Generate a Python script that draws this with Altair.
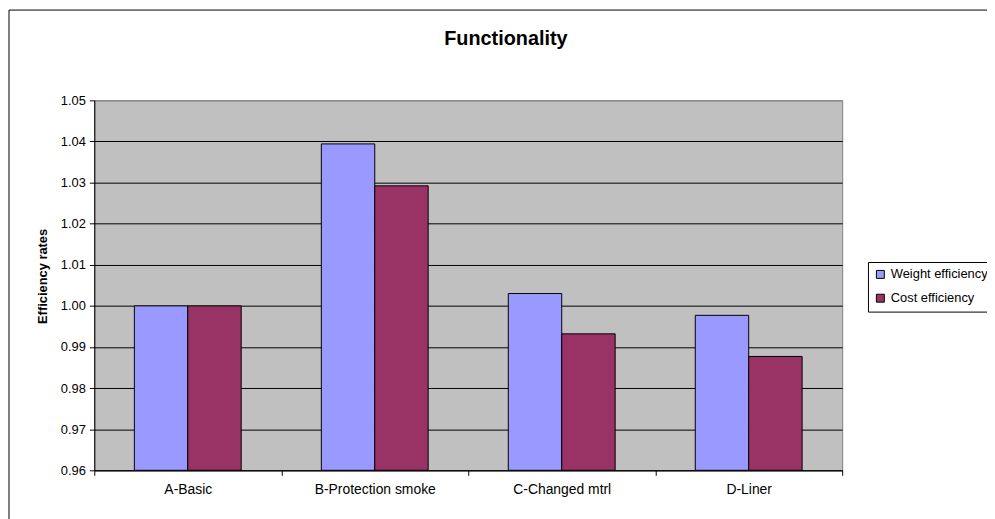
import altair as alt
import pandas as pd

categories = ["A-Basic", "B-Protection smoke", "C-Changed mtrl", "D-Liner"]
series = ["Weight efficiency", "Cost efficiency"]
weight_eff = [1.000, 1.0394, 1.0030, 0.9977]
cost_eff = [1.000, 1.0292, 0.9932, 0.9877]
y_ticks = [0.96, 0.97, 0.98, 0.99, 1.00, 1.01, 1.02, 1.03, 1.04, 1.05]
colors = ["#9999FF", "#993366"]

rows = []
for c, w, k in zip(categories, weight_eff, cost_eff):
    rows.append({"category": c, "series": series[0], "value": w})
    rows.append({"category": c, "series": series[1], "value": k})
df = pd.DataFrame(rows)

W, H = 754, 373
FONT = "Liberation Sans"

bars = alt.Chart(df).mark_bar(stroke="black", strokeWidth=1).encode(
    x=alt.X("category:N", sort=categories,
            scale=alt.Scale(paddingInner=0, paddingOuter=0),
            axis=alt.Axis(title=None, labelAngle=0, tickBand="extent", grid=False,
                          domainColor="black", tickColor="black", tickSize=5,
                          labelFontSize=14, labelFont=FONT, labelColor="black",
                          labelPadding=7)),
    xOffset=alt.XOffset("series:N", sort=series,
                        scale=alt.Scale(paddingInner=0, paddingOuter=0.75)),
    y=alt.Y("value:Q",
            scale=alt.Scale(domain=[0.96, 1.05], zero=False, nice=False),
            axis=alt.Axis(title="Efficiency rates", values=y_ticks, format=".2f",
                          grid=True,
                          gridColor={"condition": {"test": "datum.value > 1.045", "value": "#808080"}, "value": "black"},
                          gridOpacity=1, domainColor="black", tickColor="black", tickSize=5,
                          labelFontSize=13, labelFont=FONT, labelColor="black", labelPadding=4,
                          titleFontSize=13, titleFont=FONT, titleFontWeight="bold",
                          titleColor="black", titlePadding=11, titleY=177)),
    y2=alt.datum(0.96),
    color=alt.Color("series:N", sort=series,
                    scale=alt.Scale(domain=series, range=colors),
                    legend=alt.Legend(title=None, orient="none", legendX=780, legendY=163,
                                      symbolType="square", symbolSize=64,
                                      symbolStrokeColor="black", symbolStrokeWidth=1,
                                      labelFontSize=13, labelFont=FONT, labelColor="black",
                                      strokeColor="black", fillColor="white",
                                      padding=6, rowPadding=10, labelOffset=4)),
)

frame = alt.Chart(pd.DataFrame({"k": [0]})).mark_rect(
    fill="transparent", stroke="black", strokeWidth=1, clip=False
).encode(
    x=alt.value(-86), x2=alt.value(W + 400),
    y=alt.value(-91), y2=alt.value(H + 400),
)

chart = alt.layer(frame, bars).properties(
    width=W, height=H,
    background="white",
    title=alt.TitleParams("Functionality", anchor="middle", dx=38, fontSize=20,
                          font=FONT, fontWeight="bold", color="black",
                          frame="group", baseline="alphabetic", offset=-56),
    padding={"left": 87, "top": 91, "right": 146, "bottom": 47},
    autosize=alt.AutoSizeParams(type="none"),
).configure_view(
    fill="#C0C0C0", stroke="#808080", strokeWidth=1
)

chart.save("out.html", embed_options={"renderer": "svg", "actions": False})
